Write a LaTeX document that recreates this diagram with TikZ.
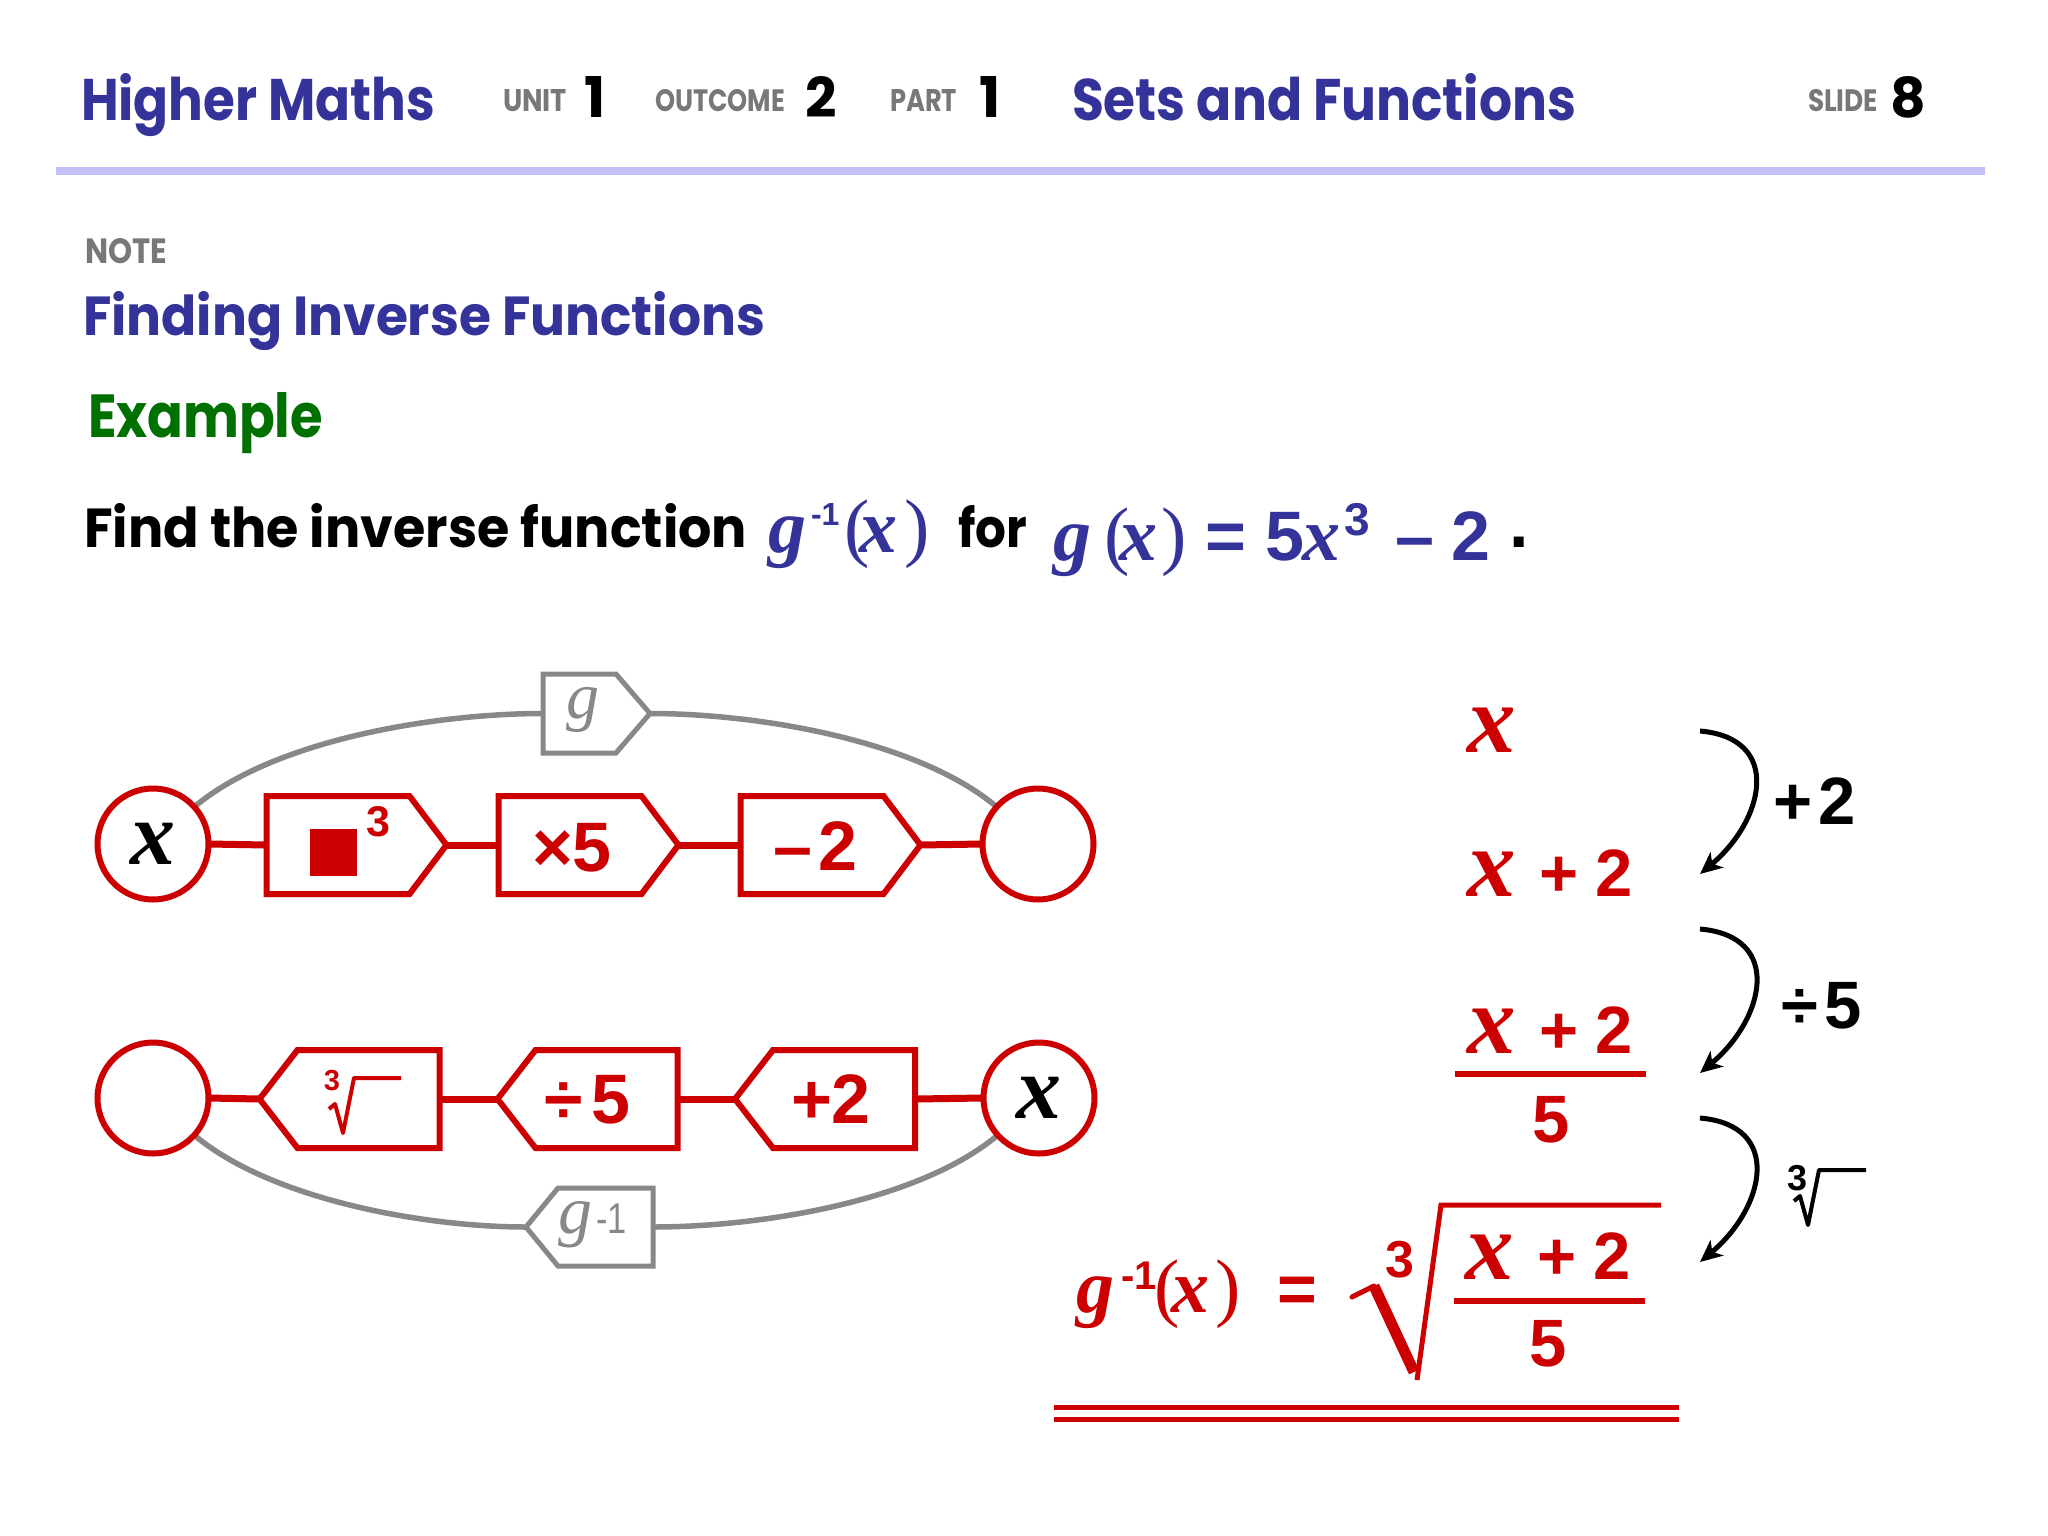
\documentclass[tikz,border=0pt]{standalone}
\usepackage{fontspec}
\usepackage{graphicx}
\setmainfont{Poppins}
\newfontfamily\ars{Liberation Sans}
\newfontfamily\tms{Liberation Serif}
\usetikzlibrary{arrows.meta,calc}
\pgfdeclarelayer{bg}
\pgfsetlayers{bg,main}
\definecolor{hblue}{RGB}{51,51,153}
\definecolor{hgray}{RGB}{120,120,120}
\definecolor{hgreen}{RGB}{0,112,0}
\definecolor{hline}{RGB}{196,192,248}
\definecolor{hred}{RGB}{204,0,0}
\definecolor{agray}{RGB}{136,136,136}
\newcommand\fitt[3]{\resizebox{#1pt}{#2pt}{#3}}
\newcommand\pc[2]{\makebox[#1pt][l]{#2}}
\newcommand\fs[1]{\fontsize{#1pt}{#1pt}\selectfont}
\newcommand\mi[1]{{\tms\bfseries\itshape #1}}
\newcommand\hv[1]{{\ars\bfseries #1}}
\newcommand\boxr[3]{\draw[#3] (#1.north west) -- ([xshift=-#2pt]#1.north east) -- (#1.east) -- ([xshift=-#2pt]#1.south east) -- (#1.south west) -- cycle;}
\newcommand\boxl[3]{\draw[#3] (#1.north east) -- ([xshift=#2pt]#1.north west) -- (#1.west) -- ([xshift=#2pt]#1.south west) -- (#1.south east) -- cycle;}
\begin{document}
\begin{tikzpicture}[x=1pt,y=1pt,
  txt/.style={inner sep=0pt, outer sep=0pt, anchor=base west},
  rc/.style={circle, draw=hred, line width=6pt, minimum size=111pt, inner sep=0pt, outer sep=0pt, fill=white},
  bx/.style={rectangle, minimum width=180pt, minimum height=98pt, inner sep=0pt, outer sep=0pt},
  rbx/.style={draw=hred, line width=6pt, fill=white},
  gbx/.style={draw=agray, line width=5pt, fill=white},
  redl/.style={draw=hred, line width=7pt},
  grl/.style={draw=agray, line width=5.5pt},
  arw/.style={draw=black, line width=5pt, -{Stealth[length=22pt,width=20pt,inset=6pt]}},
  rule/.style={draw=hred, line width=6pt}]
\useasboundingbox (0,0) rectangle (2048,-1536);

% header
\node[txt,text=hblue] (t1) at (81,-121) {\fitt{354}{47}{\bfseries Higher Maths}};
\node[txt,text=hgray] (u1) at (503,-112) {\fitt{64}{22}{\bfseries UNIT}};
\node[txt,anchor=base] (u2) at (595,-118) {\resizebox{!}{41pt}{\bfseries 1}};
\node[txt,text=hgray] (o1) at (655,-112) {\fitt{130}{22}{\bfseries OUTCOME}};
\node[txt,anchor=base] (o2) at (821,-118) {\resizebox{!}{41pt}{\bfseries 2}};
\node[txt,text=hgray] (p1) at (890,-112) {\fitt{67}{22}{\bfseries PART}};
\node[txt,anchor=base] (p2) at (990,-118) {\resizebox{!}{41pt}{\bfseries 1}};
\node[txt,text=hblue] (t2) at (1072,-121) {\fitt{504}{47}{\bfseries Sets and Functions}};
\node[txt,text=hgray] (s1) at (1808,-112) {\fitt{70}{22}{\bfseries SLIDE}};
\node[txt,anchor=base] (s2) at (1908,-118) {\resizebox{!}{41pt}{\bfseries 8}};
\draw[hline, line width=8pt] (56,-171) -- (1985,-171);

\node[txt,text=hgray] (n1) at (85,-263) {\fitt{82}{25}{\bfseries NOTE}};
\node[txt,text=hblue] (n2) at (83,-335) {\fitt{682}{44}{\bfseries Finding Inverse Functions}};
\node[txt,text=hgreen] (n3) at (88,-437) {\fitt{235}{45}{\bfseries Example}};

% question
\node[txt] (q1) at (84,-547) {\fitt{663}{44}{\bfseries Find the inverse function}};
\node[txt,text=hblue] (q2) at (768,-552) {\fs{76}\pc{43}{\mi{g}}\pc{33}{\raisebox{27pt}{\fs{32}\hv{-1}}}\pc{15}{\tms(}\pc{45}{\mi{x}}{\tms)}};
\node[txt] (q3) at (958,-547) {\fitt{69}{42}{\bfseries for}};
\node[txt,text=hblue] (q4) at (1053,-560) {\fs{76}\pc{51}{\mi{g}}\pc{15}{\tms(}\pc{42}{\mi{x}}\pc{44}{\tms)}\fs{70}\pc{60}{\hv{=}}\pc{37}{\hv{5}}\fs{76}\pc{42}{\mi{x}}\pc{51}{\raisebox{25pt}{\fs{46}\hv{3}}}\fs{70}\pc{57}{\hv{–}}\hv{2}};
\node[txt] (q5) at (1509,-547) {\fs{70}\hv{.}};

% circles
\node[rc] (cA) at (153,-844) {\fs{90}\mi{x}};
\node[rc] (cB) at (1038,-844) {};
\node[rc] (cC) at (153,-1098) {};
\node[rc] (cD) at (1039,-1098) {\fs{90}\mi{x}};

% boxes (frames)
\node[bx] (b1) at (356.5,-845) {};
\node[bx] (b2) at (588.5,-845) {};
\node[bx] (b3) at (830.5,-845) {};
\node[bx] (c1) at (349.5,-1099) {};
\node[bx] (c2) at (587.5,-1099) {};
\node[bx] (c3) at (825,-1099) {};
\node[bx, minimum width=107pt, minimum height=79pt] (g1) at (596.5,-713.5) {};
\node[bx, minimum width=127pt, minimum height=78pt] (g2) at (589.5,-1227) {};

\begin{pgfonlayer}{bg}
\fill[white] (0,0) rectangle (2048,-1536);
\draw[redl] (cA.east) -- (b1.west);
\draw[redl] (b1.east) -- (b2.west);
\draw[redl] (b2.east) -- (b3.west);
\draw[redl] (b3.east) -- (cB.west);
\draw[redl] (cC.east) -- (c1.west);
\draw[redl] (c1.east) -- (c2.west);
\draw[redl] (c2.east) -- (c3.west);
\draw[redl] (c3.east) -- (cD.west);
\draw[grl] (cA.42) to[out=40,in=180,looseness=0.75] (g1.west);
\draw[grl] (g1.east) to[out=0,in=140,looseness=0.75] (cB.138);
\draw[grl] (cC.-42) to[out=-40,in=180,looseness=0.75] (g2.west);
\draw[grl] (g2.east) to[out=0,in=-140,looseness=0.75] (cD.-138);
\end{pgfonlayer}

\boxr{b1}{37}{rbx}
\boxr{b2}{37}{rbx}
\boxr{b3}{37}{rbx}
\boxl{c1}{38}{rbx}
\boxl{c2}{38}{rbx}
\boxl{c3}{38}{rbx}
\boxr{g1}{34}{gbx}
\boxl{g2}{32}{gbx}

% box labels
\node[fill=hred, minimum size=47pt, inner sep=0pt] (sq) at (333.5,-852.5) {};
\node[txt,anchor=base,text=hred] (sup3) at (378.5,-836) {\fs{43}\hv{3}};
\node[txt,text=hred] (l2) at (532,-871) {\fs{70}\hv{×5}};
\node[txt,text=hred] (l3) at (773,-870) {\fs{70}\pc{46}{\hv{–}}\hv{2}};
\node[txt,anchor=base,text=hred] (r3) at (332,-1090) {\fs{29}\hv{3}};
\draw[hred, line width=4pt, line join=round] (329,-1109) -- (335,-1104) -- (343,-1133) -- (354,-1078) -- (401,-1078);
\node[txt,text=hred] (l5) at (544,-1123) {\fs{70}\pc{48}{\hv{÷}}\hv{5}};
\node[txt,text=hred] (l6) at (791,-1123) {\fs{70}\hv{+2}};
\node[txt,anchor=base,text=agray] (gl) at (582.5,-718) {\fs{66}\tms\itshape g};
\node[txt,text=agray] (gil) at (558,-1233) {\fs{68}\pc{38}{\tms\itshape g}\fs{43}\scalebox{0.8}[1]{\ars -1}};

% right working
\node[txt,anchor=base,text=hred] (r0) at (1492,-752) {\fs{97}\mi{x}};
\node[txt,text=hred] (r1) at (1467,-896) {\fs{97}\pc{72}{\mi{x}}\fs{67}\pc{57}{\hv{+}}\hv{2}};
\node[txt,text=hred] (r2) at (1467,-1053) {\fs{97}\pc{72}{\mi{x}}\fs{67}\pc{57}{\hv{+}}\hv{2}};
\draw[rule] (1455,-1073.5) -- (1646,-1073.5);
\node[txt,anchor=base,text=hred] (r2d) at (1551.5,-1142) {\fs{67}\hv{5}};

\node[txt,text=hred] (f1) at (1076,-1312) {\fs{76}\pc{45}{\mi{g}}\pc{33}{\raisebox{23pt}{\fs{40}\hv{-1}}}\pc{17}{\tms(}\pc{44}{\mi{x}}{\tms)}};
\node[txt,text=hred] (f2) at (1277,-1312) {\fs{68}\hv{=}};
\node[txt,anchor=base,text=hred] (f3) at (1400,-1277) {\fs{52}\hv{3}};
\draw[hred, line width=5pt, line cap=round] (1352,-1297) -- (1374,-1286);
\draw[hred, line width=11pt] (1374,-1286) -- (1414,-1372);
\draw[hred, line width=5pt, line join=miter] (1417,-1380) -- (1441,-1205) -- (1661,-1205);
\node[txt,text=hred] (f4) at (1465,-1279) {\fs{97}\pc{72}{\mi{x}}\fs{67}\pc{57}{\hv{+}}\hv{2}};
\draw[rule] (1454,-1300.5) -- (1645,-1300.5);
\node[txt,anchor=base,text=hred] (f5) at (1548.5,-1366) {\fs{67}\hv{5}};
\draw[hred, line width=5pt] (1054,-1407.5) -- (1679,-1407.5);
\draw[hred, line width=5pt] (1054,-1419.5) -- (1679,-1419.5);

% arrows
\coordinate (a1s) at (1700,-731);
\coordinate (a1e) at (1700,-874);
\coordinate (a2s) at (1700,-929);
\coordinate (a2e) at (1700,-1073);
\coordinate (a3s) at (1700,-1118);
\coordinate (a3e) at (1700,-1262);
\draw[arw] (a1s) to[out=-5,in=40,looseness=1.5] (a1e);
\draw[arw] (a2s) to[out=-5,in=40,looseness=1.5] (a2e);
\draw[arw] (a3s) to[out=-5,in=40,looseness=1.5] (a3e);
\node[txt] (k1) at (1773,-824) {\fs{67}\pc{46}{\hv{+}}\hv{2}};
\node[txt] (k2) at (1781,-1028) {\fs{67}\pc{44}{\hv{÷}}\hv{5}};
\node[txt,anchor=base] (k3) at (1797,-1190) {\fs{36}\hv{3}};
\draw[line width=4pt, line join=round] (1794,-1201) -- (1800,-1196) -- (1808,-1225) -- (1819,-1170) -- (1866,-1170);
\end{tikzpicture}
\end{document}
